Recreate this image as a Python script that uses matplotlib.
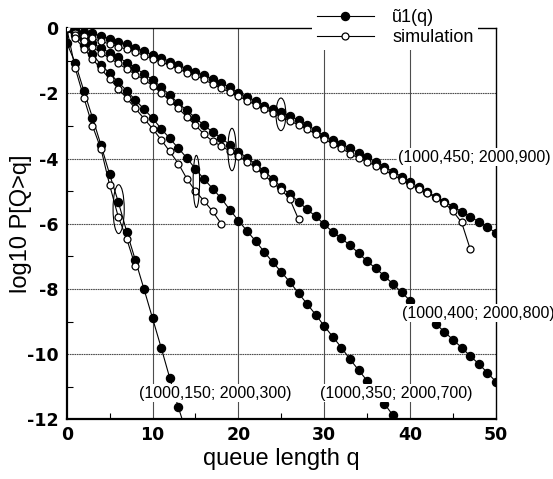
import matplotlib
matplotlib.use("Agg")
import matplotlib.pyplot as plt
from matplotlib.patches import Ellipse
from matplotlib.lines import Line2D
from matplotlib.ticker import FixedLocator

plt.rcParams["axes.unicode_minus"] = False

# ---------------- data ----------------
# (1000,450; 2000,900)
q_a = list(range(0, 51))
u1_a = [0, -0.05, -0.11, -0.15, -0.24, -0.32, -0.41, -0.49, -0.59, -0.71,
        -0.81, -0.90, -1.02, -1.13, -1.24, -1.34, -1.44, -1.56, -1.68, -1.81,
        -1.98, -2.10, -2.23, -2.37, -2.48, -2.58, -2.69, -2.82, -2.96, -3.13,
        -3.31, -3.42, -3.55, -3.68, -3.82, -3.96, -4.10, -4.25, -4.40, -4.55,
        -4.72, -4.88, -5.02, -5.17, -5.32, -5.47, -5.63, -5.78, -5.94, -6.10,
        -6.28]
qs_a = list(range(0, 48))
sim_a = [0, -0.14, -0.25, -0.31, -0.40, -0.48, -0.57, -0.64, -0.73, -0.84,
         -0.94, -1.03, -1.14, -1.25, -1.36, -1.45, -1.57, -1.72, -1.84, -1.96,
         -2.08, -2.22, -2.35, -2.47, -2.60, -2.72, -2.84, -2.97, -3.10, -3.24,
         -3.40, -3.55, -3.68, -3.85, -3.98, -4.10, -4.22, -4.36, -4.50, -4.65,
         -4.80, -4.93, -5.05, -5.20, -5.36, -5.62, -5.96, -6.78]

# (1000,400; 2000,800)
q_b = list(range(0, 51))
u1_b = [0, -0.14, -0.30, -0.46, -0.60, -0.75, -0.89, -1.05, -1.22, -1.40,
        -1.58, -1.80, -2.05, -2.30, -2.52, -2.75, -2.98, -3.18, -3.37, -3.57,
        -3.79, -3.97, -4.17, -4.38, -4.62, -4.88, -5.09, -5.32, -5.56, -5.77,
        -6.02, -6.25, -6.45, -6.66, -6.90, -7.15, -7.37, -7.60, -7.85, -8.10,
        -8.36, -8.60, -8.84, -9.07, -9.32, -9.56, -9.80, -10.06, -10.30, -10.57,
        -10.85]
qs_b = list(range(0, 28))
sim_b = [0, -0.22, -0.40, -0.58, -0.75, -0.92, -1.08, -1.25, -1.42, -1.58,
         -1.76, -1.98, -2.22, -2.46, -2.72, -2.98, -3.25, -3.47, -3.61, -3.77,
         -3.93, -4.09, -4.28, -4.50, -4.74, -4.95, -5.25, -5.86]

# (1000,350; 2000,700)
q_c = list(range(0, 39))
u1_c = [0, -0.22, -0.50, -0.80, -1.12, -1.38, -1.65, -1.92, -2.20, -2.48,
        -2.76, -3.08, -3.38, -3.68, -3.98, -4.32, -4.63, -4.92, -5.22, -5.57,
        -5.90, -6.22, -6.53, -6.86, -7.18, -7.48, -7.79, -8.13, -8.46, -8.79,
        -9.14, -9.47, -9.80, -10.16, -10.49, -10.82, -11.17, -11.52, -11.88]
qs_c = list(range(0, 19))
sim_c = [0, -0.30, -0.62, -0.94, -1.25, -1.55, -1.85, -2.15, -2.46, -2.77,
         -3.08, -3.42, -3.78, -4.15, -4.62, -5.00, -5.30, -5.62, -6.00]

# (1000,150; 2000,300)
q_d = list(range(0, 14))
u1_d = [-0.44, -1.07, -1.92, -2.74, -3.59, -4.48, -5.32, -6.25, -7.12, -8.00,
        -8.90, -9.80, -10.73, -11.63]
qs_d = list(range(0, 9))
sim_d = [0, -1.23, -2.13, -2.99, -3.71, -4.81, -5.78, -6.47, -7.30]

curve_labels = ["(1000,450; 2000,900)", "(1000,400; 2000,800)",
                "(1000,350; 2000,700)", "(1000,150; 2000,300)"]
xticks = [0, 10, 20, 30, 40, 50]
yticks = [0, -2, -4, -6, -8, -10, -12]

# ---------------- figure ----------------
W, H = 553, 479
fig = plt.figure(figsize=(W / 100, H / 100), dpi=100)
ax = fig.add_axes([66.7 / W, 1 - 419.3 / H, (496 - 66.7) / W, (419.3 - 28.3) / H])
ax.set_xlim(0, 50)
ax.set_ylim(-12, 0)

# grid
for x in [10, 20, 30, 40]:
    ax.axvline(x, color="0.3", lw=0.8, zorder=1)
for y in [-2, -4, -6, -8, -10]:
    ax.axhline(y, color="0.3", lw=0.8, ls=(0, (1.5, 0.6)), zorder=1)

filled = dict(color="black", lw=0.8, marker="o", ms=5.8, mfc="black",
              mec="black", zorder=3, clip_on=True)
opened = dict(color="black", lw=0.8, marker="o", ms=5.0, mfc="white",
              mec="black", mew=0.9, zorder=4, clip_on=True)

for qs, ss in [(qs_a, sim_a), (qs_b, sim_b), (qs_c, sim_c), (qs_d, sim_d)]:
    ax.plot(qs, ss, **opened)
for qq, uu in [(q_a, u1_a), (q_b, u1_b), (q_c, u1_c), (q_d, u1_d)]:
    ax.plot(qq, uu, **filled)

# the steep theory lines continue to the bottom axis
ax.plot([q_d[-1], q_d[-1] + 0.45], [u1_d[-1], -12], color="black", lw=0.8, zorder=3)
ax.plot([q_c[-1], q_c[-1] + 0.35], [u1_c[-1], -12], color="black", lw=0.8, zorder=3)

# ellipses marking deviations
ell_specs = [(6.05, -5.55, 1.3, 1.5), (15.1, -4.7, 0.75, 1.6),
             (19.25, -3.72, 0.95, 1.3), (24.95, -2.64, 1.15, 1.0)]
for cx, cy, w, h in ell_specs:
    ax.add_patch(Ellipse((cx, cy), w, h, fill=False, ec="black", lw=0.8, zorder=5))

# curve labels
lab_font = dict(family="Liberation Sans", fontsize=11.5, color="black")
box = dict(facecolor="white", edgecolor="none", pad=1.0)
ax.text(38.6, -3.95, curve_labels[0], ha="left", va="center", bbox=box,
        zorder=6, clip_on=False, **lab_font)
ax.text(39.0, -8.75, curve_labels[1], ha="left", va="center", bbox=box,
        zorder=6, clip_on=False, **lab_font)
ax.text(29.5, -11.2, curve_labels[2], ha="left", va="center", bbox=box,
        zorder=6, clip_on=False, **lab_font)
ax.text(8.4, -11.2, curve_labels[3], ha="left", va="center", bbox=box,
        zorder=6, clip_on=False, **lab_font)

# ticks
ax.xaxis.set_major_locator(FixedLocator(xticks))
ax.yaxis.set_major_locator(FixedLocator(yticks))
ax.xaxis.set_minor_locator(FixedLocator([5, 15, 25, 35, 45]))
ax.yaxis.set_minor_locator(FixedLocator([-1, -3, -5, -7, -9, -11]))
ax.tick_params(which="major", length=0)
ax.tick_params(axis="x", which="major", pad=5)
ax.tick_params(axis="y", which="major", pad=6)
ax.tick_params(which="minor", direction="in", length=4, width=0.8)
ax.set_xticklabels([str(t) for t in xticks])
ax.set_yticklabels([str(t) for t in yticks])
for lab in ax.get_xticklabels() + ax.get_yticklabels():
    lab.set_fontfamily("DejaVu Sans")
    lab.set_fontweight("bold")
    lab.set_fontsize(12.5)

for side in ["left", "bottom"]:
    ax.spines[side].set_linewidth(1.6)
for side in ["top", "right"]:
    ax.spines[side].set_linewidth(1.0)

ax.set_xlabel("queue length q", family="Liberation Sans", fontsize=17, va="center")
ax.xaxis.set_label_coords(0.5, -0.102)
ax.set_ylabel("log10 P[Q>q]", family="Liberation Sans", fontsize=17, va="center")
ax.yaxis.set_label_coords(-0.107, 0.5)

# legend
handles = [Line2D([], [], **{k: v for k, v in filled.items() if k != "clip_on"}),
           Line2D([], [], **{k: v for k, v in opened.items() if k != "clip_on"})]
leg = fig.legend(handles, ["ũ1(q)", "simulation"], loc="center left",
                 bbox_to_anchor=(312 / W, 1 - 27.5 / H),
                 prop=dict(family="Liberation Sans", size=13),
                 frameon=True, fancybox=False, borderpad=0.25,
                 handlelength=3.2, handletextpad=1.0, labelspacing=0.15,
                 borderaxespad=0)
leg.get_frame().set_facecolor("white")
leg.get_frame().set_edgecolor("none")
leg.get_frame().set_alpha(1)

fig.savefig("out.png", dpi=100)
